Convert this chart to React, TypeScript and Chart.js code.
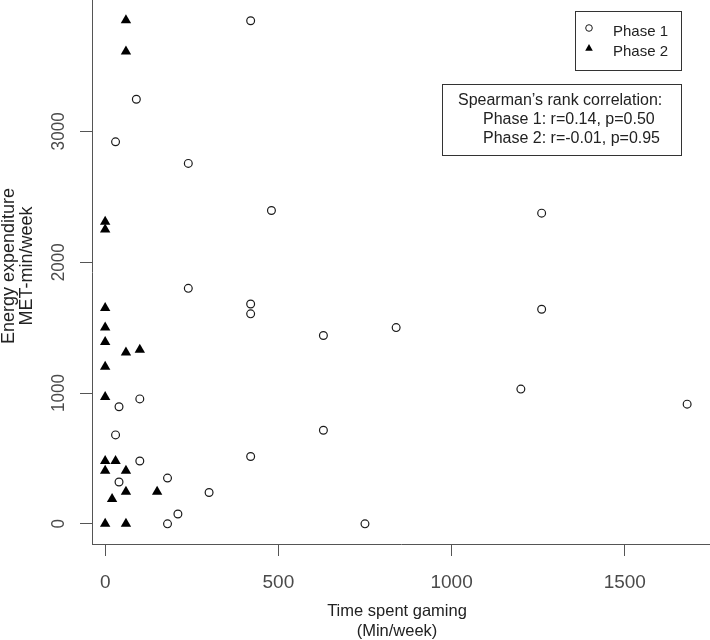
import React, { useEffect, useRef } from 'react';
import { Chart, registerables } from 'chart.js';

Chart.register(...registerables);

// ---- data ----
const phase1X = [420, 90, 30, 240, 480, 1260, 240, 420, 420, 1260, 630, 840, 1200, 100, 40, 1680, 630, 30, 420, 100, 180, 40, 300, 210, 180, 750];
const phase1Y = [3845, 3245, 2920, 2755, 2395, 2375, 1800, 1680, 1605, 1640, 1440, 1500, 1030, 955, 895, 915, 715, 680, 515, 480, 350, 320, 240, 75, 0, 0];
const phase2X = [60, 60, 0, 0, 0, 0, 0, 60, 100, 0, 0, 0, 30, 0, 60, 60, 150, 20, 0, 60];
const phase2Y = [3850, 3610, 2310, 2250, 1650, 1500, 1390, 1310, 1330, 1200, 970, 480, 480, 405, 405, 245, 245, 190, 0, 0];
const xTicks = [0, 500, 1000, 1500];
const yTicks = [0, 1000, 2000, 3000];
const seriesLabels = ['Phase 1', 'Phase 2'];
const statsLines = ['Spearman\u2019s rank correlation:', 'Phase 1: r=0.14, p=0.50', 'Phase 2: r=-0.01, p=0.95'];
const xTitle = ['Time spent gaming', '(Min/week)'];
const yTitle = ['Energy expenditure', 'MET-min/week'];

const FONT = '"Liberation Sans", Arial, sans-serif';

const overlay = {
  id: 'overlay',
  afterDraw(chart: any) {
    const ctx = chart.ctx as CanvasRenderingContext2D;
    const ys = chart.scales.y;
    const area = chart.chartArea;

    // y tick labels (rotated, reading bottom-to-top)
    ctx.save();
    ctx.fillStyle = '#4a4a4a';
    ctx.font = `19px ${FONT}`;
    ctx.textAlign = 'center';
    ctx.textBaseline = 'alphabetic';
    ys.ticks.forEach((t: any) => {
      const py = ys.getPixelForValue(t.value);
      ctx.save();
      ctx.translate(64, py);
      ctx.rotate(-Math.PI / 2);
      ctx.scale(0.9, 1);
      ctx.fillText(String(t.value), 0, 0);
      ctx.restore();
    });
    ctx.restore();

    // axis titles
    ctx.save();
    ctx.fillStyle = '#222';
    ctx.textAlign = 'center';
    ctx.textBaseline = 'alphabetic';
    ctx.font = `16.5px ${FONT}`;
    const cx = (area.left + area.right) / 2 - 4;
    ctx.fillText(xTitle[0], cx, 616);
    ctx.fillText(xTitle[1], cx, 636);
    const cy = 266;
    ctx.font = `18px ${FONT}`;
    ctx.save();
    ctx.translate(14, cy);
    ctx.rotate(-Math.PI / 2);
    ctx.fillText(yTitle[0], 0, 0);
    ctx.restore();
    ctx.save();
    ctx.translate(32, cy);
    ctx.rotate(-Math.PI / 2);
    ctx.fillText(yTitle[1], 0, 0);
    ctx.restore();
    ctx.restore();

    // legend box
    ctx.save();
    ctx.strokeStyle = '#333';
    ctx.lineWidth = 1;
    ctx.strokeRect(575.5, 11.5, 106, 59);
    ctx.lineWidth = 1;
    ctx.strokeStyle = '#1a1a1a';
    ctx.beginPath();
    ctx.arc(589, 28, 3.3, 0, Math.PI * 2);
    ctx.stroke();
    const tr = 4.4;
    ctx.fillStyle = '#000';
    ctx.beginPath();
    ctx.moveTo(589, 48.5 - tr);
    ctx.lineTo(589 + tr * Math.sin((2 * Math.PI) / 3), 48.5 + tr / 2);
    ctx.lineTo(589 - tr * Math.sin((2 * Math.PI) / 3), 48.5 + tr / 2);
    ctx.closePath();
    ctx.fill();
    ctx.fillStyle = '#222';
    ctx.font = `15px ${FONT}`;
    ctx.textAlign = 'left';
    ctx.fillText(seriesLabels[0], 613, 36);
    ctx.fillText(seriesLabels[1], 613, 56);
    ctx.restore();

    // stats box
    ctx.save();
    ctx.strokeStyle = '#333';
    ctx.lineWidth = 1;
    ctx.strokeRect(442.5, 84.5, 239, 71);
    ctx.fillStyle = '#222';
    ctx.font = `16px ${FONT}`;
    ctx.textAlign = 'left';
    ctx.fillText(statsLines[0], 458, 104.5);
    ctx.fillText(statsLines[1], 483, 123.5);
    ctx.fillText(statsLines[2], 483, 142.5);
    ctx.restore();
  },
};

export default function App() {
  const ref = useRef<HTMLCanvasElement>(null);

  useEffect(() => {
    const canvas = ref.current;
    if (!canvas) return;
    const chart = new Chart(canvas, {
      type: 'scatter',
      data: {
        datasets: [
          {
            label: seriesLabels[0],
            data: phase1X.map((x, i) => ({ x, y: phase1Y[i] })),
            pointStyle: 'circle',
            pointRadius: 3.9,
            pointBackgroundColor: 'rgba(0,0,0,0)',
            pointBorderColor: '#1a1a1a',
            pointBorderWidth: 1.2,
          },
          {
            label: seriesLabels[1],
            data: phase2X.map((x, i) => ({ x, y: phase2Y[i] })),
            pointStyle: 'triangle',
            pointRadius: 6,
            pointBackgroundColor: '#000',
            pointBorderColor: '#000',
            pointBorderWidth: 0,
          },
        ],
      },
      options: {
        animation: false,
        responsive: false,
        devicePixelRatio: 1,
        layout: { padding: 0, autoPadding: false },
        plugins: { legend: { display: false }, tooltip: { enabled: false } },
        scales: {
          x: {
            type: 'linear',
            position: 'bottom',
            min: -38,
            max: 1746,
            afterBuildTicks: (s: any) => {
              s.ticks = xTicks.map((v) => ({ value: v }));
            },
            afterFit: (s: any) => {
              s.height = 96;
            },
            grid: { drawOnChartArea: false, drawTicks: true, tickLength: 12, color: '#555', lineWidth: 1 },
            border: { display: true, color: '#555', width: 1 },
            ticks: {
              color: '#4a4a4a',
              font: { family: FONT, size: 19 },
              padding: 15,
              maxRotation: 0,
              minRotation: 0,
              autoSkip: false,
              callback: (v: any) => String(v),
            },
          },
          y: {
            type: 'linear',
            position: 'left',
            min: -154,
            max: 4004,
            afterBuildTicks: (s: any) => {
              s.ticks = yTicks.map((v) => ({ value: v }));
            },
            afterFit: (s: any) => {
              s.width = 92;
            },
            grid: { drawOnChartArea: false, drawTicks: true, tickLength: 12, color: '#555', lineWidth: 1 },
            border: { display: true, color: '#555', width: 1 },
            ticks: { display: false },
          },
        },
      },
      plugins: [overlay],
    } as any);
    return () => chart.destroy();
  }, []);

  return (
    <div style={{ position: 'fixed', left: 0, top: 0, width: 710, height: 640, background: '#fff' }}>
      <canvas ref={ref} width={710} height={640} style={{ display: 'block' }} />
    </div>
  );
}
